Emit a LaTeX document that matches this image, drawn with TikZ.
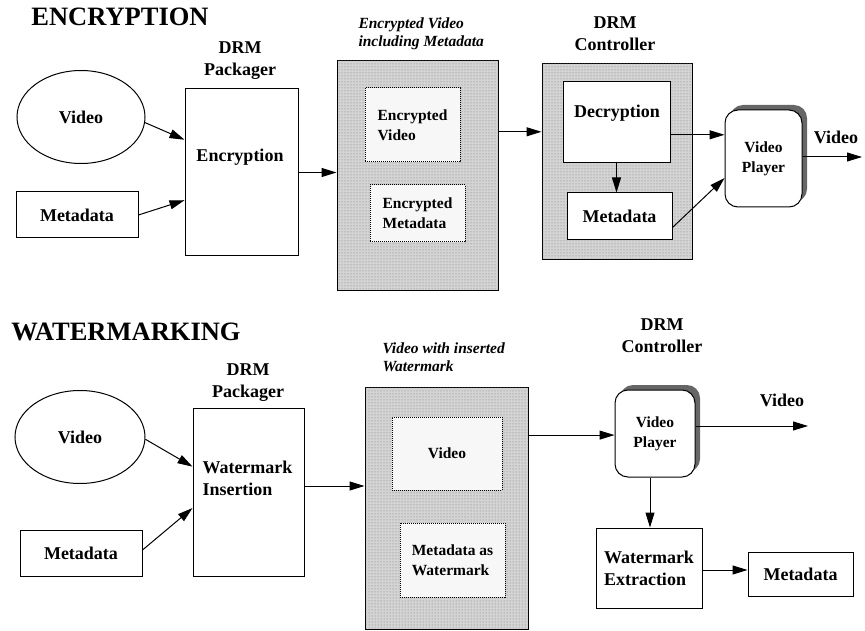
\documentclass[tikz,border=0pt]{standalone}
\usepackage{fontspec}
\setmainfont{Liberation Serif}
\usetikzlibrary{arrows.meta,shapes.geometric,patterns,shadows,calc}
\begin{document}
\begin{tikzpicture}[x=1pt,y=-1pt,line width=1pt,
  >={Triangle[length=15pt,width=9pt]},
  big/.style={font=\bfseries\fontsize{18}{22}\selectfont},
  small/.style={font=\bfseries\fontsize{15.5}{20}\selectfont},
  ital/.style={font=\bfseries\itshape\fontsize{15.5}{18}\selectfont},
  ttl/.style={font=\bfseries\fontsize{26.5}{30}\selectfont},
  txt/.style={inner sep=0pt},
  box/.style={draw, rectangle, inner sep=0pt, fill=white},
  oval/.style={draw, ellipse, inner sep=0pt, big},
  shadebox/.style={draw, rectangle, inner sep=0pt, fill=black!17, postaction={pattern=dots, pattern color=black!55}},
  innerbox/.style={draw, densely dotted, rectangle, inner sep=0pt, fill=black!3, small, align=left},
  solidin/.style={draw, rectangle, inner sep=0pt, fill=white},
  player/.style={draw, rectangle, rounded corners=13pt, fill=white, inner sep=0pt, small, align=center,
     drop shadow={shadow xshift=5pt, shadow yshift=5pt, fill=black!60, opacity=1}},
  conn/.style={->}]
\useasboundingbox (0,0) rectangle (865,631);

% ===== ENCRYPTION =====
\node[txt, ttl] (title1) at (120,17) {ENCRYPTION};
\node[oval, minimum width=128, minimum height=93] (vid1) at (81,117) {Video};
\node[box, big, minimum width=122, minimum height=46] (meta1) at (77,215) {Metadata};
\node[box, minimum width=113, minimum height=167] (pack1) at (241.5,172.5) {};
\node[txt, big] (enc1) at (240,157) {Encryption};
\node[txt, big, align=center] (pack1lab) at (240,61) {DRM\\Packager};

\node[shadebox, minimum width=161, minimum height=229] (shade1) at (417.5,175.5) {};
\node[innerbox, minimum width=95, minimum height=74] (ev) at (412.5,125) {Encrypted\\Video};
\node[innerbox, minimum width=95, minimum height=57] (em) at (417.5,213.5) {Encrypted\\Metadata};
\node[txt, ital, align=left, anchor=west] (shade1lab) at (358,34) {Encrypted Video\\including Metadata};

\node[shadebox, minimum width=150, minimum height=196] (ctrl1) at (617,162) {};
\node[solidin, minimum width=107, minimum height=81] (dec) at (616.5,122.5) {};
\node[txt, big] (dectxt) at (617,113) {Decryption};
\node[solidin, big, minimum width=105, minimum height=47] (meta1c) at (619.5,216.5) {Metadata};
\node[txt, big, align=center] (ctrl1lab) at (615,34) {DRM\\Controller};

\node[player, minimum width=77, minimum height=97] (play1) at (763.5,158.5) {Video\\Player};
\coordinate (out1) at (862,157);
\node[txt, big] (vlab1) at (836,137) {Video};

\coordinate (p1a) at ($(pack1.north west)!0.305!(pack1.south west)$);
\coordinate (p1b) at ($(pack1.north west)!0.665!(pack1.south west)$);
\coordinate (s1e) at ($(shade1.north east)!0.31!(shade1.south east)$);
\coordinate (de) at ($(dec.north east)!0.65!(dec.south east)$);
\coordinate (pl1w) at ($(play1.north west)!0.7!(play1.south west)$);

\draw[conn] (vid1.-5) -- (p1a);
\draw[conn] (meta1.east) -- (p1b);
\draw[conn] (pack1.east) -- (pack1.east -| shade1.west);
\draw[conn] (s1e) -- (s1e -| ctrl1.west);
\draw[conn] (dec.south) -- (dec.south |- meta1c.north);
\draw[conn] (de) -- (de -| play1.west);
\draw[conn] ([yshift=-11pt]meta1c.east) -- (pl1w);
\draw[conn] ([yshift=1.5pt]play1.east) -- (out1);

% ===== WATERMARKING =====
\node[txt, ttl] (title2) at (126,332) {WATERMARKING};
\node[oval, minimum width=130, minimum height=93] (vid2) at (80,437) {Video};
\node[box, big, minimum width=122, minimum height=46] (meta2) at (81,553) {Metadata};
\node[box, minimum width=111, minimum height=168] (pack2) at (248.5,492) {};
\node[txt, big, align=left, anchor=west] (wins) at (202,478.5) {Watermark\\Insertion};
\node[txt, big, align=center] (pack2lab) at (248,383) {DRM\\Packager};

\node[shadebox, minimum width=163, minimum height=242] (shade2) at (446.5,508) {};
\node[innerbox, minimum width=110, minimum height=73] (vbox) at (447,453.5) {Video};
\node[innerbox, minimum width=105, minimum height=74] (mwbox) at (452.5,560) {Metadata as\\Watermark};
\node[txt, ital, align=left, anchor=west] (shade2lab) at (382,357) {Video with inserted\\Watermark};

\node[txt, big, align=center] (ctrl2lab) at (662,336) {DRM\\Controller};
\node[player, minimum width=80, minimum height=87] (play2) at (655,433.5) {Video\\Player};
\coordinate (out2) at (808,426);
\node[txt, big] (vlab2) at (782,400) {Video};
\node[box, big, align=left, minimum width=106, minimum height=80] (wext) at (649,568) {Watermark\\Extraction};
\node[box, big, minimum width=105, minimum height=44] (meta3) at (800.5,574) {Metadata};

\coordinate (p2a) at ($(pack2.north west)!0.35!(pack2.south west)$);
\coordinate (p2b) at ($(pack2.north west)!0.595!(pack2.south west)$);
\coordinate (s2e) at ($(shade2.north east)!0.2!(shade2.south east)$);

\draw[conn] (vid2.-2) -- (p2a);
\draw[conn] ([yshift=3pt]meta2.east) -- (p2b);
\draw[conn] ([yshift=6pt]pack2.east) -- ([yshift=6pt]pack2.east -| shade2.west);
\draw[conn] (s2e) -- (s2e -| play2.west);
\draw[conn] ([yshift=7.5pt]play2.east) -- (out2);
\draw[conn] ([xshift=-5pt]play2.south) -- ([xshift=-5pt]play2.south |- wext.north);
\draw[conn] ([yshift=-2pt]wext.east) -- ([yshift=-2pt]wext.east -| meta3.west);
\end{tikzpicture}
\end{document}
